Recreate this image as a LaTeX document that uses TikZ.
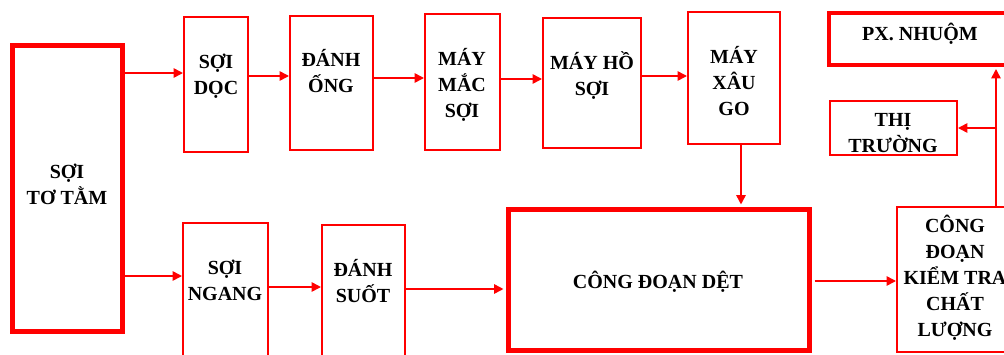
\documentclass[tikz,border=0pt]{standalone}
\usepackage{fontspec}
\setmainfont{Liberation Serif}
\usetikzlibrary{arrows.meta,fit}
\begin{document}
\begin{tikzpicture}[x=0.75pt,y=-0.75pt,
  thinbox/.style={draw=red, line width=1.5pt, inner sep=0pt},
  heavybox/.style={draw=red, line width=3.75pt, inner sep=0pt},
  pxbox/.style={draw=red, line width=3pt, inner sep=0pt},
  lbl/.style={font=\fontsize{15}{19.5}\selectfont\bfseries, align=center, anchor=base, inner sep=0pt},
  arr/.style={draw=red, line width=1.2pt, -{Triangle[length=7pt,width=7pt]}},
  link/.style={draw=red, line width=1.2pt}]
\useasboundingbox (0,0) rectangle (1004,354);
\clip (0,0) rectangle (1004,354);

% boxes
\node[heavybox, fit={(12.5,45.5) (122.5,331.5)}] (tam) {};
\node[thinbox, fit={(184,17) (248,152)}] (soidoc) {};
\node[thinbox, fit={(290,16) (373,150)}] (danhong) {};
\node[thinbox, fit={(425,14) (500,150)}] (maymac) {};
\node[thinbox, fit={(543,18) (641,148)}] (mayho) {};
\node[thinbox, fit={(688,12) (780,144)}] (xaugo) {};
\node[pxbox, fit={(829,13) (1030,65)}] (px) {};
\node[thinbox, fit={(830,101) (957,155)}] (thitruong) {};
\node[thinbox, fit={(183,223) (268,380)}] (soingang) {};
\node[thinbox, fit={(322,225) (405,380)}] (danhsuot) {};
\node[heavybox, fit={(508.5,209.5) (809.5,350.5)}] (det) {};
\node[thinbox, fit={(897,207) (1030,352)}] (kiemtra) {};

% labels (anchored on the baseline of their last line)
\node[lbl] (tamT) at (67,204) {SỢI\\TƠ TẰM};
\node[lbl] (soidocT) at (216,94) {SỢI\\DỌC};
\node[lbl] (danhongT) at (331,92) {ĐÁNH\\ỐNG};
\node[lbl] (maymacT) at (462,117) {MÁY\\MẮC\\SỢI};
\node[lbl] (mayhoT) at (592,95) {MÁY HỒ\\SỢI};
\node[lbl] (xaugoT) at (734,115) {MÁY\\XÂU\\GO};
\node[lbl] (pxT) at (920,40) {PX. NHUỘM};
\node[lbl] (thitruongT) at (893,152) {THỊ\\TRƯỜNG};
\node[lbl] (soingangT) at (225,300) {SỢI\\NGANG};
\node[lbl] (danhsuotT) at (363,302) {ĐÁNH\\SUỐT};
\node[lbl] (detT) at (658,288) {CÔNG ĐOẠN DỆT};
\node[lbl] (kiemtraT) at (955,336) {CÔNG\\ĐOẠN\\KIỂM TRA\\CHẤT\\LƯỢNG};

% levels of the connectors
\coordinate (r1) at (0,73);
\coordinate (r2) at (0,76);
\coordinate (r3) at (0,78);
\coordinate (r4) at (0,79);
\coordinate (r5) at (0,76);
\coordinate (r6) at (0,276);
\coordinate (r7) at (0,287);
\coordinate (r8) at (0,289);
\coordinate (r9) at (0,281);
\coordinate (cx) at (741,0);
\coordinate (cr) at (996,0);

% warp line
\draw[arr] (tam.east |- r1) -- (soidoc.west |- r1);
\draw[arr] (soidoc.east |- r2) -- (danhong.west |- r2);
\draw[arr] (danhong.east |- r3) -- (maymac.west |- r3);
\draw[arr] (maymac.east |- r4) -- (mayho.west |- r4);
\draw[arr] (mayho.east |- r5) -- (xaugo.west |- r5);
\draw[arr, shorten >=1.9pt] (xaugo.south -| cx) -- (det.north -| cx);
% weft line
\draw[arr] (tam.east |- r6) -- (soingang.west |- r6);
\draw[arr] (soingang.east |- r7) -- (danhsuot.west |- r7);
\draw[arr, shorten >=1.9pt] (danhsuot.east |- r8) -- (det.west |- r8);
% weaving to inspection and onwards
\draw[arr, shorten <=1.9pt] (det.east |- r9) -- (kiemtra.west |- r9);
\draw[arr, shorten >=1.5pt] (kiemtra.north -| cr) -- (px.south -| cr);
\draw[arr] (thitruong.east -| cr) -- (thitruong.east);
\end{tikzpicture}
\end{document}
